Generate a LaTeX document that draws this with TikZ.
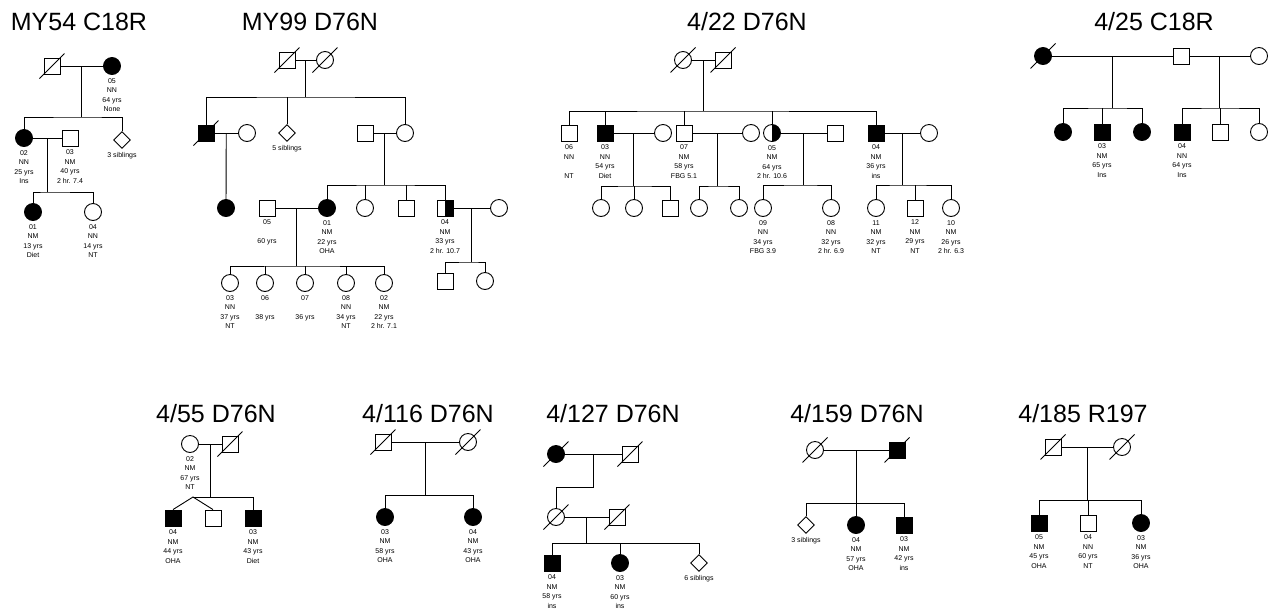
\documentclass[tikz,border=0pt]{standalone}
\usepackage{fontspec}
\setmainfont{Liberation Sans}
\usepackage{tikz}
\usetikzlibrary{positioning,shapes.geometric,calc}
\definecolor{inkP}{HTML}{000000}

\tikzset{
  sq/.style={draw=inkP, rectangle, minimum size=16pt, inner sep=0pt},
  ci/.style={draw=inkP, circle, minimum size=17pt, inner sep=0pt},
  di/.style={draw=inkP, diamond, minimum width=17pt, minimum height=17pt, inner sep=0pt},
  aff/.style={fill=inkP},
  half/.style={path picture={\fill[inkP] (path picture bounding box.north) rectangle (path picture bounding box.south east);}},
  lab/.style={font=\fontsize{7pt}{9.5pt}\selectfont, align=center, inner sep=0pt},
  ttl/.style={font=\fontsize{25pt}{30pt}\selectfont, inner sep=0pt},
}

\begin{document}
\begin{tikzpicture}[x=1pt, y=-1pt, line width=0.9pt]
  \useasboundingbox (0,0) rectangle (1269,614);

  % MY54 C18R
  \node[ttl] (t1) at (79,22) {MY54 C18R};
  \node[sq] (a1) at (52,66) {};
  \node[ci,aff] (a2) at (112,66) {};
  \node[ci,aff] (a3) at (24,138) {};
  \node[sq] (a4) at (70,138) {};
  \node[di] (a5) at (122,140) {};
  \node[ci,aff] (a6) at (33,212) {};
  \node[ci] (a7) at (93,212) {};
  \draw (a1) -- coordinate (m1) (a2);
  \draw (m1) -- ++(0,51) coordinate (s1);
  \draw (a3.north) |- (s1) -| (a5.north);
  \draw (a3) -- coordinate (m2) (a4);
  \draw (m2) -- ++(0,54) coordinate (s2);
  \draw (a6.north) |- (s2) -| (a7.north);

  % MY99 D76N
  \node[ttl] (t2) at (310,22) {MY99 D76N};
  \node[sq] (b1) at (287,60) {};
  \node[ci] (b2) at (325,60) {};
  \node[sq,aff] (b3) at (206,133) {};
  \node[ci] (b4) at (247,133) {};
  \node[di] (b5) at (287,133) {};
  \node[sq] (b6) at (365,133) {};
  \node[ci] (b7) at (405,133) {};
  \node[ci,aff] (b8) at (226,208) {};
  \node[sq] (b9) at (267,208) {};
  \node[ci,aff] (b10) at (327,208) {};
  \node[ci] (b11) at (365,208) {};
  \node[sq] (b12) at (406,208) {};
  \node[sq,half] (b13) at (445,208) {};
  \node[ci] (b14) at (499,208) {};
  \foreach \n/\x in {15/230,16/265,17/305,18/346,19/384}
    \node[ci] (b\n) at (\x,283) {};
  \node[sq] (b20) at (445,281) {};
  \node[ci] (b21) at (485,281) {};
  \draw (b1) -- coordinate (m3) (b2);
  \draw (m3) -- ++(0,37) coordinate (s3);
  \draw (b3.north) |- (s3) -| (b7.north);
  \draw (b3) -- coordinate (m4) (b4);
  \draw (m4) -- (b8);
  \draw (b6) -- coordinate (m5) (b7);
  \draw (m5) -- ++(0,52) coordinate (s5);
  \draw (b10.north) |- (s5) -| (b13.north);
  \draw (b9) -- coordinate (m6) (b10);
  \draw (m6) -- ++(0,58) coordinate (s6);
  \draw (b15.north) |- (s6) -| (b19.north);
  \draw (b13) -- coordinate (m7) (b14);
  \draw (m7) -- ++(0,54) coordinate (s7);
  \draw (b20.north) |- (s7) -| (b21.north);

  % 4/22 D76N
  \node[ttl] (t3) at (747,22) {4/22 D76N};
  \node[ci] (c1) at (683,60) {};
  \node[sq] (c2) at (723,60) {};
  \node[sq] (c3) at (569,133) {};
  \node[sq,aff] (c4) at (605,133) {};
  \node[ci] (c5) at (663,133) {};
  \node[sq] (c6) at (684,133) {};
  \node[ci] (c7) at (751,133) {};
  \node[ci,half] (c8) at (772,133) {};
  \node[sq] (c9) at (835,133) {};
  \node[sq,aff] (c10) at (876,133) {};
  \node[ci] (c11) at (929,133) {};
  \node[ci] (c12) at (601,208) {};
  \node[ci] (c13) at (634,208) {};
  \node[sq] (c14) at (670,208) {};
  \node[ci] (c15) at (699,208) {};
  \node[ci] (c16) at (739,208) {};
  \node[ci] (c17) at (763,208) {};
  \node[ci] (c18) at (831,208) {};
  \node[ci] (c19) at (876,208) {};
  \node[sq] (c20) at (915,208) {};
  \node[ci] (c21) at (951,208) {};
  \draw (c1) -- coordinate (m8) (c2);
  \draw (m8) -- ++(0,51) coordinate (s8);
  \draw (c3.north) |- (s8) -| (c10.north);
  \draw (c4) -- coordinate (m9) (c5);
  \draw (m9) -- ++(0,53) coordinate (s9);
  \draw (c12.north) |- (s9) -| (c14.north);
  \draw (c6) -- coordinate (m10) (c7);
  \draw (m10) -- ++(0,53) coordinate (s10);
  \draw (c15.north) |- (s10) -| (c16.north);
  \draw (c8) -- coordinate (m11) (c9);
  \draw (m11) -- ++(0,52) coordinate (s11);
  \draw (c17.north) |- (s11) -| (c18.north);
  \draw (c10) -- coordinate (m12) (c11);
  \draw (m12) -- ++(0,52) coordinate (s12);
  \draw (c19.north) |- (s12) -| (c21.north);

  % 4/25 C18R
  \node[ttl] (t4) at (1154,22) {4/25 C18R};
  \node[ci,aff] (e1) at (1043,56) {};
  \node[sq] (e2) at (1181,56) {};
  \node[ci] (e3) at (1259,56) {};
  \node[ci,aff] (e4) at (1063,132) {};
  \node[sq,aff] (e5) at (1102,132) {};
  \node[ci,aff] (e6) at (1142,132) {};
  \node[sq,aff] (e7) at (1182,132) {};
  \node[sq] (e8) at (1220,132) {};
  \node[ci] (e9) at (1259,132) {};
  \draw (e1) -- coordinate (m13) (e2);
  \draw (m13) -- ++(0,52) coordinate (s13);
  \draw (e4.north) |- (s13) -| (e6.north);
  \draw (e2) -- coordinate (m14) (e3);
  \draw (m14) -- ++(0,52) coordinate (s14);
  \draw (e7.north) |- (s14) -| (e9.north);

  % 4/55 D76N
  \node[ttl] (t5) at (216,414) {4/55 D76N};
  \node[ci] (f1) at (190,444) {};
  \node[sq] (f2) at (230,444) {};
  \node[sq,aff] (f3) at (173,518) {};
  \node[sq] (f4) at (213,518) {};
  \node[sq,aff] (f5) at (253,518) {};
  \draw (f1) -- coordinate (m15) (f2);
  \draw (m15) -- ++(0,53) coordinate (s15);
  \coordinate (tw) at (193,497);
  \draw (tw) -| (f5.north);
  \draw (f3.north) -- (tw) -- (f4.north);

  % 4/116 D76N
  \node[ttl] (t6) at (428,414) {4/116 D76N};
  \node[sq] (g1) at (383,442) {};
  \node[ci] (g2) at (468,442) {};
  \node[ci,aff] (g3) at (385,517) {};
  \node[ci,aff] (g4) at (473,517) {};
  \draw (g1) -- coordinate (m16) (g2);
  \draw (m16) -- ++(0,53) coordinate (s16);
  \draw (g3.north) |- (s16) -| (g4.north);

  % 4/127 D76N
  \node[ttl] (t7) at (613,414) {4/127 D76N};
  \node[ci,aff] (h1) at (556,454) {};
  \node[sq] (h2) at (630,454) {};
  \node[ci] (h3) at (556,517) {};
  \node[sq] (h4) at (617,517) {};
  \node[sq,aff] (h5) at (552,563) {};
  \node[ci,aff] (h6) at (620,563) {};
  \node[di] (h7) at (699,563) {};
  \draw (h1) -- coordinate (m17) (h2);
  \draw (m17) -- ++(0,33) -| (h3.north);
  \draw (h3) -- coordinate (m18) (h4);
  \draw (m18) -- ++(0,26) coordinate (s18);
  \draw (h5.north) |- (s18) -| (h7.north);

  % 4/159 D76N
  \node[ttl] (t8) at (857,414) {4/159 D76N};
  \node[ci] (i1) at (815,450) {};
  \node[sq,aff] (i2) at (897,450) {};
  \node[di] (i3) at (806,525) {};
  \node[ci,aff] (i4) at (856,525) {};
  \node[sq,aff] (i5) at (904,525) {};
  \draw (i1) -- coordinate (m19) (i2);
  \draw (m19) -- ++(0,53) coordinate (s19);
  \draw (i3.north) |- (s19) -| (i5.north);

  % 4/185 R197
  \node[ttl] (t9) at (1083,414) {4/185 R197};
  \node[sq] (j1) at (1053,447) {};
  \node[ci] (j2) at (1122,447) {};
  \node[sq,aff] (j3) at (1039,523) {};
  \node[sq] (j4) at (1088,523) {};
  \node[ci,aff] (j5) at (1141,523) {};
  \draw (j1) -- coordinate (m20) (j2);
  \draw (m20) -- ++(0,53) coordinate (s20);
  \draw (j3.north) |- (s20) -| (j5.north);

  % single drops from sibship lines
  \foreach \n/\s in {b5/s3,b11/s5,b12/s5,b16/s6,b17/s6,b18/s6,c4/s8,c6/s8,c8/s8,
      c13/s9,c20/s12,e5/s13,e8/s14,h6/s18,i4/s19,j4/s20}
    \draw (\n.north) -- (\n.north |- \s);

  % deceased
  \foreach \n in {a1,b1,b2,b3,c1,c2,e1,f2,g1,g2,h1,h2,h3,h4,i1,i2,j1,j2}
    \draw ([shift={(-12.5,12.5)}]\n.center) -- ([shift={(12.5,-12.5)}]\n.center);

  % labels
  \foreach \n/\t in {
      a2/{05\\NN\\64 yrs\\None}, a3/{02\\NN\\25 yrs\\Ins}, a4/{03\\NM\\40 yrs\\2 hr. 7.4},
      a5/{3 siblings}, a6/{01\\NM\\13 yrs\\Diet}, a7/{04\\NN\\14 yrs\\NT},
      b5/{5 siblings}, b9/{05\\[9.5pt]60 yrs}, b10/{01\\NM\\22 yrs\\OHA},
      b13/{04\\NM\\33 yrs\\2 hr. 10.7}, b15/{03\\NN\\37 yrs\\NT}, b16/{06\\[9.5pt]38 yrs},
      b17/{07\\[9.5pt]36 yrs}, b18/{08\\NN\\34 yrs\\NT}, b19/{02\\NM\\22 yrs\\2 hr. 7.1},
      c3/{06\\NN\\[9.5pt]NT}, c4/{03\\NN\\54 yrs\\Diet}, c6/{07\\NM\\58 yrs\\FBG 5.1},
      c8/{05\\NM\\64 yrs\\2 hr. 10.6}, c10/{04\\NM\\36 yrs\\ins},
      c17/{09\\NN\\34 yrs\\FBG 3.9}, c18/{08\\NN\\32 yrs\\2 hr. 6.9},
      c19/{11\\NM\\32 yrs\\NT}, c20/{12\\NM\\29 yrs\\NT}, c21/{10\\NM\\26 yrs\\2 hr. 6.3},
      e5/{03\\NM\\65 yrs\\Ins}, e7/{04\\NN\\64 yrs\\Ins},
      f1/{02\\NM\\67 yrs\\NT}, f3/{04\\NM\\44 yrs\\OHA}, f5/{03\\NM\\43 yrs\\Diet},
      g3/{03\\NM\\58 yrs\\OHA}, g4/{04\\NM\\43 yrs\\OHA},
      h5/{04\\NM\\58 yrs\\ins}, h6/{03\\NM\\60 yrs\\ins}, h7/{6 siblings},
      i3/{3 siblings}, i4/{04\\NM\\57 yrs\\OHA}, i5/{03\\NM\\42 yrs\\ins},
      j3/{05\\NM\\45 yrs\\OHA}, j4/{04\\NN\\60 yrs\\NT}, j5/{03\\NM\\36 yrs\\OHA}}
    \node[lab, below=3pt of \n] {\t};
\end{tikzpicture}
\end{document}
